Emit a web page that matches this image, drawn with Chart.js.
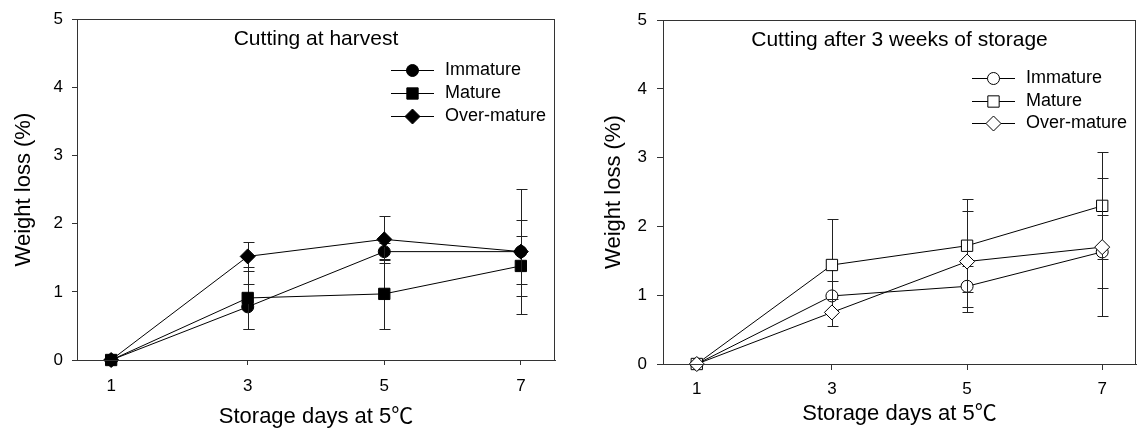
<!DOCTYPE html>
<html>
<head>
<meta charset="utf-8">
<script src="https://cdn.jsdelivr.net/npm/chart.js"></script>
<style>
  body { margin: 0; background: #fff; }
  .panel { position: absolute; top: 0; }
</style>
</head>
<body>
<div class="panel" style="left:0px"><canvas id="harvestChart" width="575" height="434"></canvas></div>
<div class="panel" style="left:586px"><canvas id="storageChart" width="559" height="434"></canvas></div>
<script>
// storage days (x) and tick positions
const days = [1, 3, 5, 7];
const xTicks = [1, 3, 5, 7];
const seriesNames = ['Immature', 'Mature', 'Over-mature'];

// cutting at harvest: mean weight loss (%) and error (+/-)
const immatureHarvest = [0, 0.78, 1.59, 1.59];
const immatureHarvestErr = [0, 0.33, 0.13, 0.47];
const matureHarvest = [0, 0.91, 0.97, 1.38];
const matureHarvestErr = [0, 0.46, 0.51, 0.44];
const overHarvest = [0, 1.52, 1.77, 1.59];
const overHarvestErr = [0, 0.21, 0.34, 0.92];

// cutting after 3 weeks of storage
const immatureStorage = [0, 0.99, 1.13, 1.63];
const immatureStorageErr = [0, 0.21, 0.30, 0.53];
const matureStorage = [0, 1.44, 1.72, 2.30];
const matureStorageErr = [0, 0.67, 0.68, 0.78];
const overStorage = [0, 0.75, 1.49, 1.70];
const overStorageErr = [0, 0.20, 0.73, 1.00];

const fontFamily = "'Liberation Sans', Arial, 'Noto Sans CJK SC', sans-serif";
const xTitle = 'Storage days at 5\u2103';
const yTitle = 'Weight loss (%)';

function toPoints(ys) {
    return days.map((d, i) => ({ x: d, y: ys[i] }));
}

// error bars drawn under each dataset's line and symbols
const errorBars = {
    id: 'errorBars',
    beforeDatasetDraw(chart, args) {
        const ds = chart.data.datasets[args.index];
        if (!ds.errors) return;
        const ctx = chart.ctx;
        const x = chart.scales.x, y = chart.scales.y;
        ctx.save();
        ctx.strokeStyle = '#222';
        ctx.lineWidth = 1;
        ds.data.forEach((p, i) => {
            const e = ds.errors[i];
            if (!e) return;
            const px = Math.round(x.getPixelForValue(p.x)) + 0.5;
            const top = Math.round(y.getPixelForValue(p.y + e)) + 0.5;
            const bot = Math.round(y.getPixelForValue(p.y - e)) + 0.5;
            ctx.beginPath();
            ctx.moveTo(px, top); ctx.lineTo(px, bot);
            ctx.moveTo(px - 5, top); ctx.lineTo(px + 6, top);
            ctx.moveTo(px - 5, bot); ctx.lineTo(px + 6, bot);
            ctx.stroke();
        });
        ctx.restore();
    }
};

// frame, inner title and legend
const panelDecor = {
    id: 'panelDecor',
    afterDraw(chart, args, opts) {
        const ctx = chart.ctx;
        const a = chart.chartArea;
        ctx.save();
        ctx.strokeStyle = '#333';
        ctx.lineWidth = 1;
        ctx.strokeRect(Math.round(a.left) + 0.5, Math.round(a.top) + 0.5,
            Math.round(a.right - a.left) - 1, Math.round(a.bottom - a.top));

        ctx.fillStyle = '#000';
        ctx.textBaseline = 'middle';
        ctx.textAlign = 'center';
        ctx.font = '21px ' + fontFamily;
        ctx.fillText(opts.title, (a.left + a.right) / 2, a.top + 20);

        ctx.textAlign = 'left';
        ctx.font = '18px ' + fontFamily;
        chart.data.datasets.forEach((ds, i) => {
            const ly = Math.round(a.top + opts.legendTop + i * opts.legendGap) + 0.5;
            const x0 = a.right - 164, x1 = a.right - 121;
            ctx.strokeStyle = '#000';
            ctx.beginPath();
            ctx.moveTo(x0, ly); ctx.lineTo(x1, ly);
            ctx.stroke();
            ctx.fillStyle = ds.pointBackgroundColor;
            ctx.strokeStyle = '#000';
            ctx.lineWidth = 1;
            Chart.helpers.drawPoint(ctx, {
                pointStyle: ds.pointStyle,
                radius: ds.pointRadius,
                rotation: 0,
                borderWidth: 1
            }, (x0 + x1) / 2, ly);
            ctx.fillStyle = '#000';
            ctx.fillText(ds.label, a.right - 110, ly);
        });
        ctx.restore();
    }
};

function makeDatasets(values, errors, fill) {
    const styles = [
        { pointStyle: 'circle', pointRadius: 6, order: 3 },
        { pointStyle: 'rect', pointRadius: 8, order: 2 },
        { pointStyle: 'rectRot', pointRadius: 7.5, order: 1 }
    ];
    return values.map((v, i) => ({
        label: seriesNames[i],
        data: toPoints(v),
        errors: errors[i],
        showLine: true,
        clip: false,
        borderColor: '#000',
        borderWidth: 1,
        pointStyle: styles[i].pointStyle,
        pointRadius: styles[i].pointRadius,
        pointBackgroundColor: fill,
        pointBorderColor: '#000',
        pointBorderWidth: 1,
        order: styles[i].order
    }));
}

function makeScales(cfg) {
    return {
        x: {
            type: 'linear',
            min: 0.5,
            max: 7.5,
            afterBuildTicks: s => { s.ticks = xTicks.map(v => ({ value: v })); },
            afterFit: s => { s.height = cfg.xHeight; },
            grid: { drawOnChartArea: false, tickLength: cfg.tick, color: '#333' },
            border: { color: '#333' },
            ticks: { color: '#000', padding: cfg.xPad, maxRotation: 0, font: { size: 17, family: fontFamily } },
            title: {
                display: true, text: xTitle, color: '#000',
                font: { size: 22, family: fontFamily },
                padding: { top: 0, bottom: cfg.xTitlePad }
            }
        },
        y: {
            min: 0,
            max: 5,
            afterFit: s => { s.width = cfg.yWidth; },
            grid: { drawOnChartArea: false, tickLength: cfg.tick, color: '#333' },
            border: { color: '#333' },
            ticks: { stepSize: 1, color: '#000', padding: cfg.yPad, font: { size: 17, family: fontFamily } },
            title: {
                display: true, text: yTitle, color: '#000',
                font: { size: 22, family: fontFamily },
                padding: { top: cfg.yTitlePad, bottom: 0 }
            }
        }
    };
}

new Chart(document.getElementById('harvestChart'), {
    type: 'scatter',
    data: {
        datasets: makeDatasets(
            [immatureHarvest, matureHarvest, overHarvest],
            [immatureHarvestErr, matureHarvestErr, overHarvestErr],
            '#000')
    },
    options: {
        responsive: false,
        animation: false,
        layout: { padding: { top: 16, right: 20, bottom: 0, left: 0 } },
        scales: makeScales({ xHeight: 74, yWidth: 77, tick: 5, xPad: 11, yPad: 9, xTitlePad: 4, yTitlePad: 11 }),
        plugins: {
            legend: { display: false },
            tooltip: { enabled: false },
            panelDecor: { title: 'Cutting at harvest', legendTop: 51, legendGap: 23 }
        }
    },
    plugins: [errorBars, panelDecor]
});

new Chart(document.getElementById('storageChart'), {
    type: 'scatter',
    data: {
        datasets: makeDatasets(
            [immatureStorage, matureStorage, overStorage],
            [immatureStorageErr, matureStorageErr, overStorageErr],
            '#fff')
    },
    options: {
        responsive: false,
        animation: false,
        layout: { padding: { top: 20, right: 4, bottom: 0, left: 0 } },
        scales: makeScales({ xHeight: 70, yWidth: 77, tick: 6, xPad: 9, yPad: 10, xTitlePad: 7, yTitlePad: 15 }),
        plugins: {
            legend: { display: false },
            tooltip: { enabled: false },
            panelDecor: { title: 'Cutting after 3 weeks of storage', legendTop: 58, legendGap: 22.5 }
        }
    },
    plugins: [errorBars, panelDecor]
});
</script>
</body>
</html>
